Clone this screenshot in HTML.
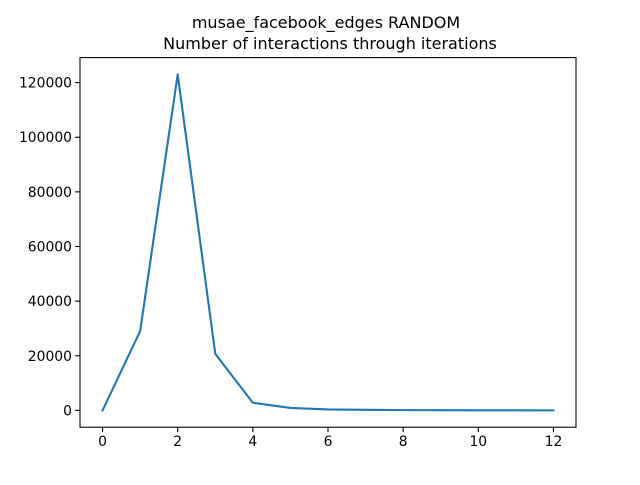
<!DOCTYPE html>
<html><head><meta charset="utf-8"><style>
body{margin:0;background:#fff;}
svg text{font-family:"DejaVu Sans","Liberation Sans",sans-serif;fill:#000;}
</style></head><body>
<svg width="640" height="480" xmlns="http://www.w3.org/2000/svg">
<rect width="640" height="480" fill="#fff"/>
<text x="326" y="28" font-size="16" text-anchor="middle">musae_facebook_edges RANDOM</text>
<text x="330" y="49" font-size="16" text-anchor="middle">Number of interactions through iterations</text>
<g id="plot"></g>
</svg>
<script>
const xValues=[0,1,2,3,4,5,6,7,8,9,10,11,12];
const yValues=[0,29000,123000,20700,2800,900,350,200,100,60,30,20,10];
const xTicks=[0,2,4,6,8,10,12];
const yTicks=[0,20000,40000,60000,80000,100000,120000];
const L=80,R=576,T=57.6,B=427.2;
const xmin=-0.6,xmax=12.6;
const ymax0=Math.max(...yValues),ymin0=Math.min(...yValues);
const pad=(ymax0-ymin0)*0.05,ymin=ymin0-pad,ymax=ymax0+pad;
const sx=v=>L+(v-xmin)/(xmax-xmin)*(R-L);
const sy=v=>B-(v-ymin)/(ymax-ymin)*(B-T);
const NS="http://www.w3.org/2000/svg";
const g=document.getElementById('plot');
function mk(t,a){const e=document.createElementNS(NS,t);for(const k in a)e.setAttribute(k,a[k]);g.appendChild(e);return e;}
xTicks.forEach(v=>{
  const l=mk('line',{x1:sx(v),x2:sx(v),y1:B,y2:B+4.9,stroke:'#000','stroke-width':1.1});
  
  
  const t=mk('text',{x:sx(v),y:B+19,'font-size':13.9,'text-anchor':'middle'});t.textContent=v;
  
  
});
yTicks.forEach(v=>{
  const l=mk('line',{x1:L-4.9,x2:L,y1:sy(v),y2:sy(v),stroke:'#000','stroke-width':1.1});
  
  
  const t=mk('text',{x:L-8,y:sy(v)+5,'font-size':13.9,'text-anchor':'end'});t.textContent=v;
  
  
});
const p=mk('polyline',{points:xValues.map((x,i)=>sx(x)+','+sy(yValues[i])).join(' '),fill:'none',stroke:'#1f77b4','stroke-width':2.1,'stroke-linejoin':'round','stroke-linecap':'square'});


const f=mk('rect',{x:L,y:T,width:R-L,height:B-T,fill:'none',stroke:'#000','stroke-width':1.1});


</script>
</body></html>
